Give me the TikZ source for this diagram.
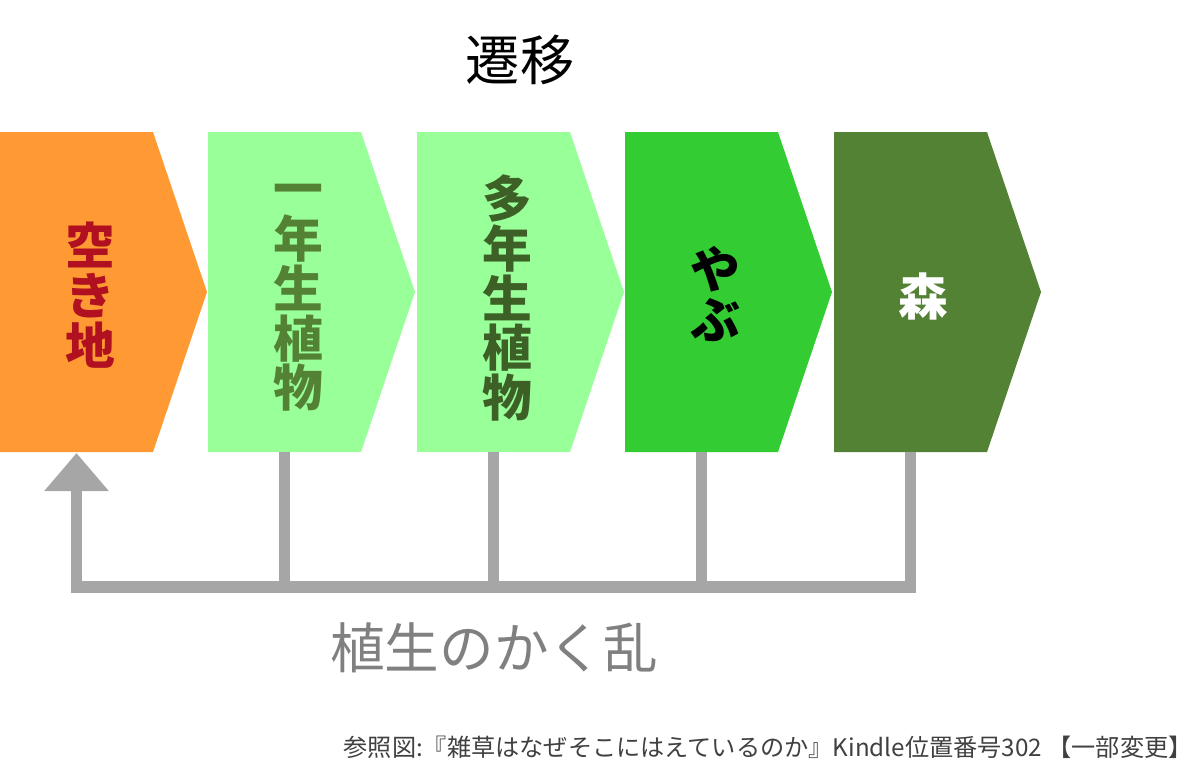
\documentclass[tikz,border=0pt]{standalone}
\usepackage{fontspec}
\setmainfont{Noto Sans CJK JP}
\usetikzlibrary{positioning, calc, arrows.meta}

\definecolor{akichi}{RGB}{255,153,51}
\definecolor{sogen}{RGB}{153,255,153}
\definecolor{yabu}{RGB}{51,204,51}
\definecolor{mori}{RGB}{84,130,53}
\definecolor{akitxt}{RGB}{176,16,32}
\definecolor{ichitxt}{RGB}{84,130,53}
\definecolor{tatxt}{RGB}{60,96,38}
\definecolor{kakuran}{RGB}{166,166,166}
\definecolor{kakutxt}{RGB}{128,128,128}
\definecolor{srctxt}{RGB}{64,64,64}

\tikzset{
	stage/.style={font=\fontsize{35.4pt}{35.4pt}\selectfont\bfseries, align=center, inner sep=0pt},
	flow/.style={draw=kakuran, line width=8.5pt, line join=miter},
}

% one chevron: left x, fill colour, name of its bottom point
\newcommand{\chevron}[3]{%
	\fill[#2] (#1,132) -- ++(153,0) -- ++(54,160) -- ++(-54,160) -- ++(-153,0) -- cycle;
	\coordinate (#3) at ($(#1,452)+(76.5,0)$);
}

\begin{document}
\begin{tikzpicture}[x=0.025cm, y=-0.025cm]
	\useasboundingbox (0,0) rectangle (1200,779);
	\node[font=\fontsize{38.5pt}{38.5pt}\selectfont, inner sep=0pt] (title) at (520,60) {遷移};

	\chevron{0}{akichi}{b1}
	\chevron{208}{sogen}{b2}
	\chevron{417}{sogen}{b3}
	\chevron{625}{yabu}{b4}
	\chevron{834}{mori}{b5}

	\node[stage, text=akitxt] (s1) at (90,295) {空\\き\\地};
	\node[stage, text=ichitxt] (s2) at (298,298) {一\\年\\生\\植\\物};
	\node[stage, text=tatxt] (s3) at (507,298) {多\\年\\生\\植\\物};
	\node[stage, text=black] (s4) at (715,294) {や\\ぶ};
	\node[stage, text=white] (s5) at (923,296) {森};

	% disturbance loop back to the start
	\coordinate (bar) at (0,587);
	\coordinate (start) at ($(b1)+(0,1)$);
	\draw[flow, -{Triangle[length=0.95cm, width=1.55cm]}] (b5) -- (b5 |- bar) -- (start |- bar) -- (start);
	\draw[flow] (b2) -- (b2 |- bar);
	\draw[flow] (b3) -- (b3 |- bar);
	\draw[flow] (b4) -- (b4 |- bar);

	\node[font=\fontsize{38.8pt}{38.8pt}\selectfont, text=kakutxt, inner sep=0pt] (label) at (494,648) {植生のかく乱};
	\node[font=\fontsize{17.2pt}{17.2pt}\selectfont, text=srctxt, inner sep=0pt, anchor=east] (src) at (1193,747) {参照図:『雑草はなぜそこにはえているのか』Kindle位置番号302 【一部変更】};
\end{tikzpicture}
\end{document}
